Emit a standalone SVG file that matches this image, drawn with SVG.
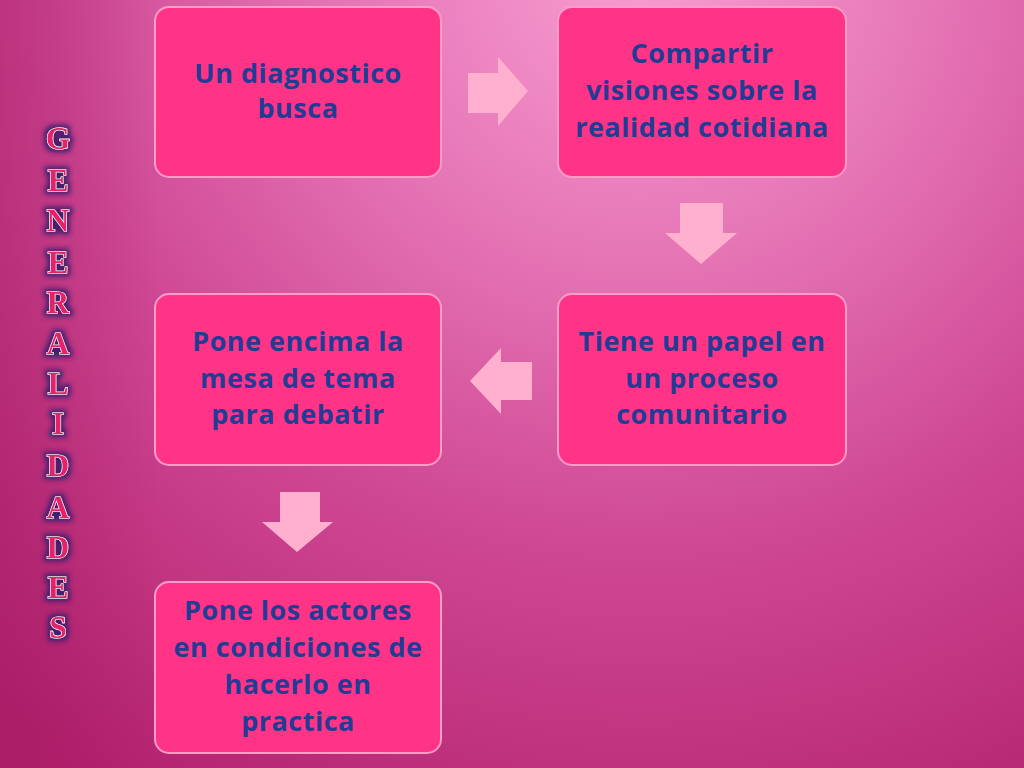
<svg xmlns="http://www.w3.org/2000/svg" width="1024" height="768" viewBox="0 0 1024 768">
  <defs>
    <radialGradient id="bg" cx="640" cy="-40" r="980" gradientUnits="userSpaceOnUse">
      <stop offset="0" stop-color="#F89ED2"/>
      <stop offset="0.3" stop-color="#E676B6"/>
      <stop offset="0.6" stop-color="#CF4894"/>
      <stop offset="1" stop-color="#B2206C"/>
    </radialGradient>
    <linearGradient id="leftshade" x1="0" y1="0" x2="1" y2="0">
      <stop offset="0" stop-color="#A01860" stop-opacity="0.35"/>
      <stop offset="1" stop-color="#A01860" stop-opacity="0"/>
    </linearGradient>
    <filter id="glow" x="-60%" y="-60%" width="220%" height="220%">
      <feMorphology in="SourceAlpha" operator="dilate" radius="3" result="d"/>
      <feGaussianBlur in="d" stdDeviation="2.5" result="b"/>
      <feFlood flood-color="#4A1F6E" flood-opacity="1"/>
      <feComposite in2="b" operator="in" result="g"/>
      <feMerge>
        <feMergeNode in="g"/>
        <feMergeNode in="SourceGraphic"/>
      </feMerge>
    </filter>
  </defs>
  <style>
    .box { fill: #FF3487; stroke: #FF9CC8; stroke-width: 2; }
    .lbl { font-family: "Open Sans", "Liberation Sans", sans-serif; font-weight: 700; font-size: 27px; letter-spacing: 0.5px; fill: #213C94; text-anchor: middle; }
    .arr { fill: #FFB0CF; }
    .vt { font-family: "Liberation Serif", "DejaVu Serif", serif; font-weight: 700; font-size: 31px; fill: #E4226A; stroke: #FFFFFF; stroke-width: 1.2; paint-order: stroke; text-anchor: middle; }
  </style>

  <rect x="0" y="0" width="1024" height="768" fill="url(#bg)"/>
  <rect x="0" y="0" width="160" height="768" fill="url(#leftshade)"/>

  <g id="title" filter="url(#glow)">
    <text class="vt" x="58" y="149">G</text>
    <text class="vt" x="58" y="191">E</text>
    <text class="vt" x="58" y="231">N</text>
    <text class="vt" x="58" y="273">E</text>
    <text class="vt" x="58" y="313">R</text>
    <text class="vt" x="58" y="354">A</text>
    <text class="vt" x="58" y="394">L</text>
    <text class="vt" x="58" y="434">I</text>
    <text class="vt" x="58" y="476">D</text>
    <text class="vt" x="58" y="518">A</text>
    <text class="vt" x="58" y="558">D</text>
    <text class="vt" x="58" y="598">E</text>
    <text class="vt" x="58" y="638">S</text>
  </g>

  <g id="connectors">
    <path class="arr" d="M468,73 L498,73 L498,57 L528,91 L498,126 L498,113 L468,113 Z"/>
    <path class="arr" d="M680,203 L723,203 L723,233 L737,233 L701,264 L665,233 L680,233 Z"/>
    <path class="arr" d="M532,362 L501,362 L501,348 L470,381 L501,414 L501,400 L532,400 Z"/>
    <path class="arr" d="M280,492 L320,492 L320,522 L333,522 L297,552 L262,522 L280,522 Z"/>
  </g>

  <g id="node1">
    <rect class="box" x="155" y="7" width="286" height="170" rx="14"/>
    <text class="lbl" x="298" y="83">Un diagnostico</text>
    <text class="lbl" x="298" y="118">busca</text>
  </g>

  <g id="node2">
    <rect class="box" x="558" y="7" width="288" height="170" rx="14"/>
    <text class="lbl" x="702" y="63">Compartir</text>
    <text class="lbl" x="702" y="100">visiones sobre la</text>
    <text class="lbl" x="702" y="137">realidad cotidiana</text>
  </g>

  <g id="node3">
    <rect class="box" x="558" y="294" width="288" height="171" rx="14"/>
    <text class="lbl" x="702" y="351">Tiene un papel en</text>
    <text class="lbl" x="702" y="388">un proceso</text>
    <text class="lbl" x="702" y="424">comunitario</text>
  </g>

  <g id="node4">
    <rect class="box" x="155" y="294" width="286" height="171" rx="14"/>
    <text class="lbl" x="298" y="351">Pone encima la</text>
    <text class="lbl" x="298" y="388">mesa de tema</text>
    <text class="lbl" x="298" y="424">para debatir</text>
  </g>

  <g id="node5">
    <rect class="box" x="155" y="582" width="286" height="171" rx="14"/>
    <text class="lbl" x="298" y="620">Pone los actores</text>
    <text class="lbl" x="298" y="657">en condiciones de</text>
    <text class="lbl" x="298" y="694">hacerlo en</text>
    <text class="lbl" x="298" y="731">practica</text>
  </g>
</svg>
